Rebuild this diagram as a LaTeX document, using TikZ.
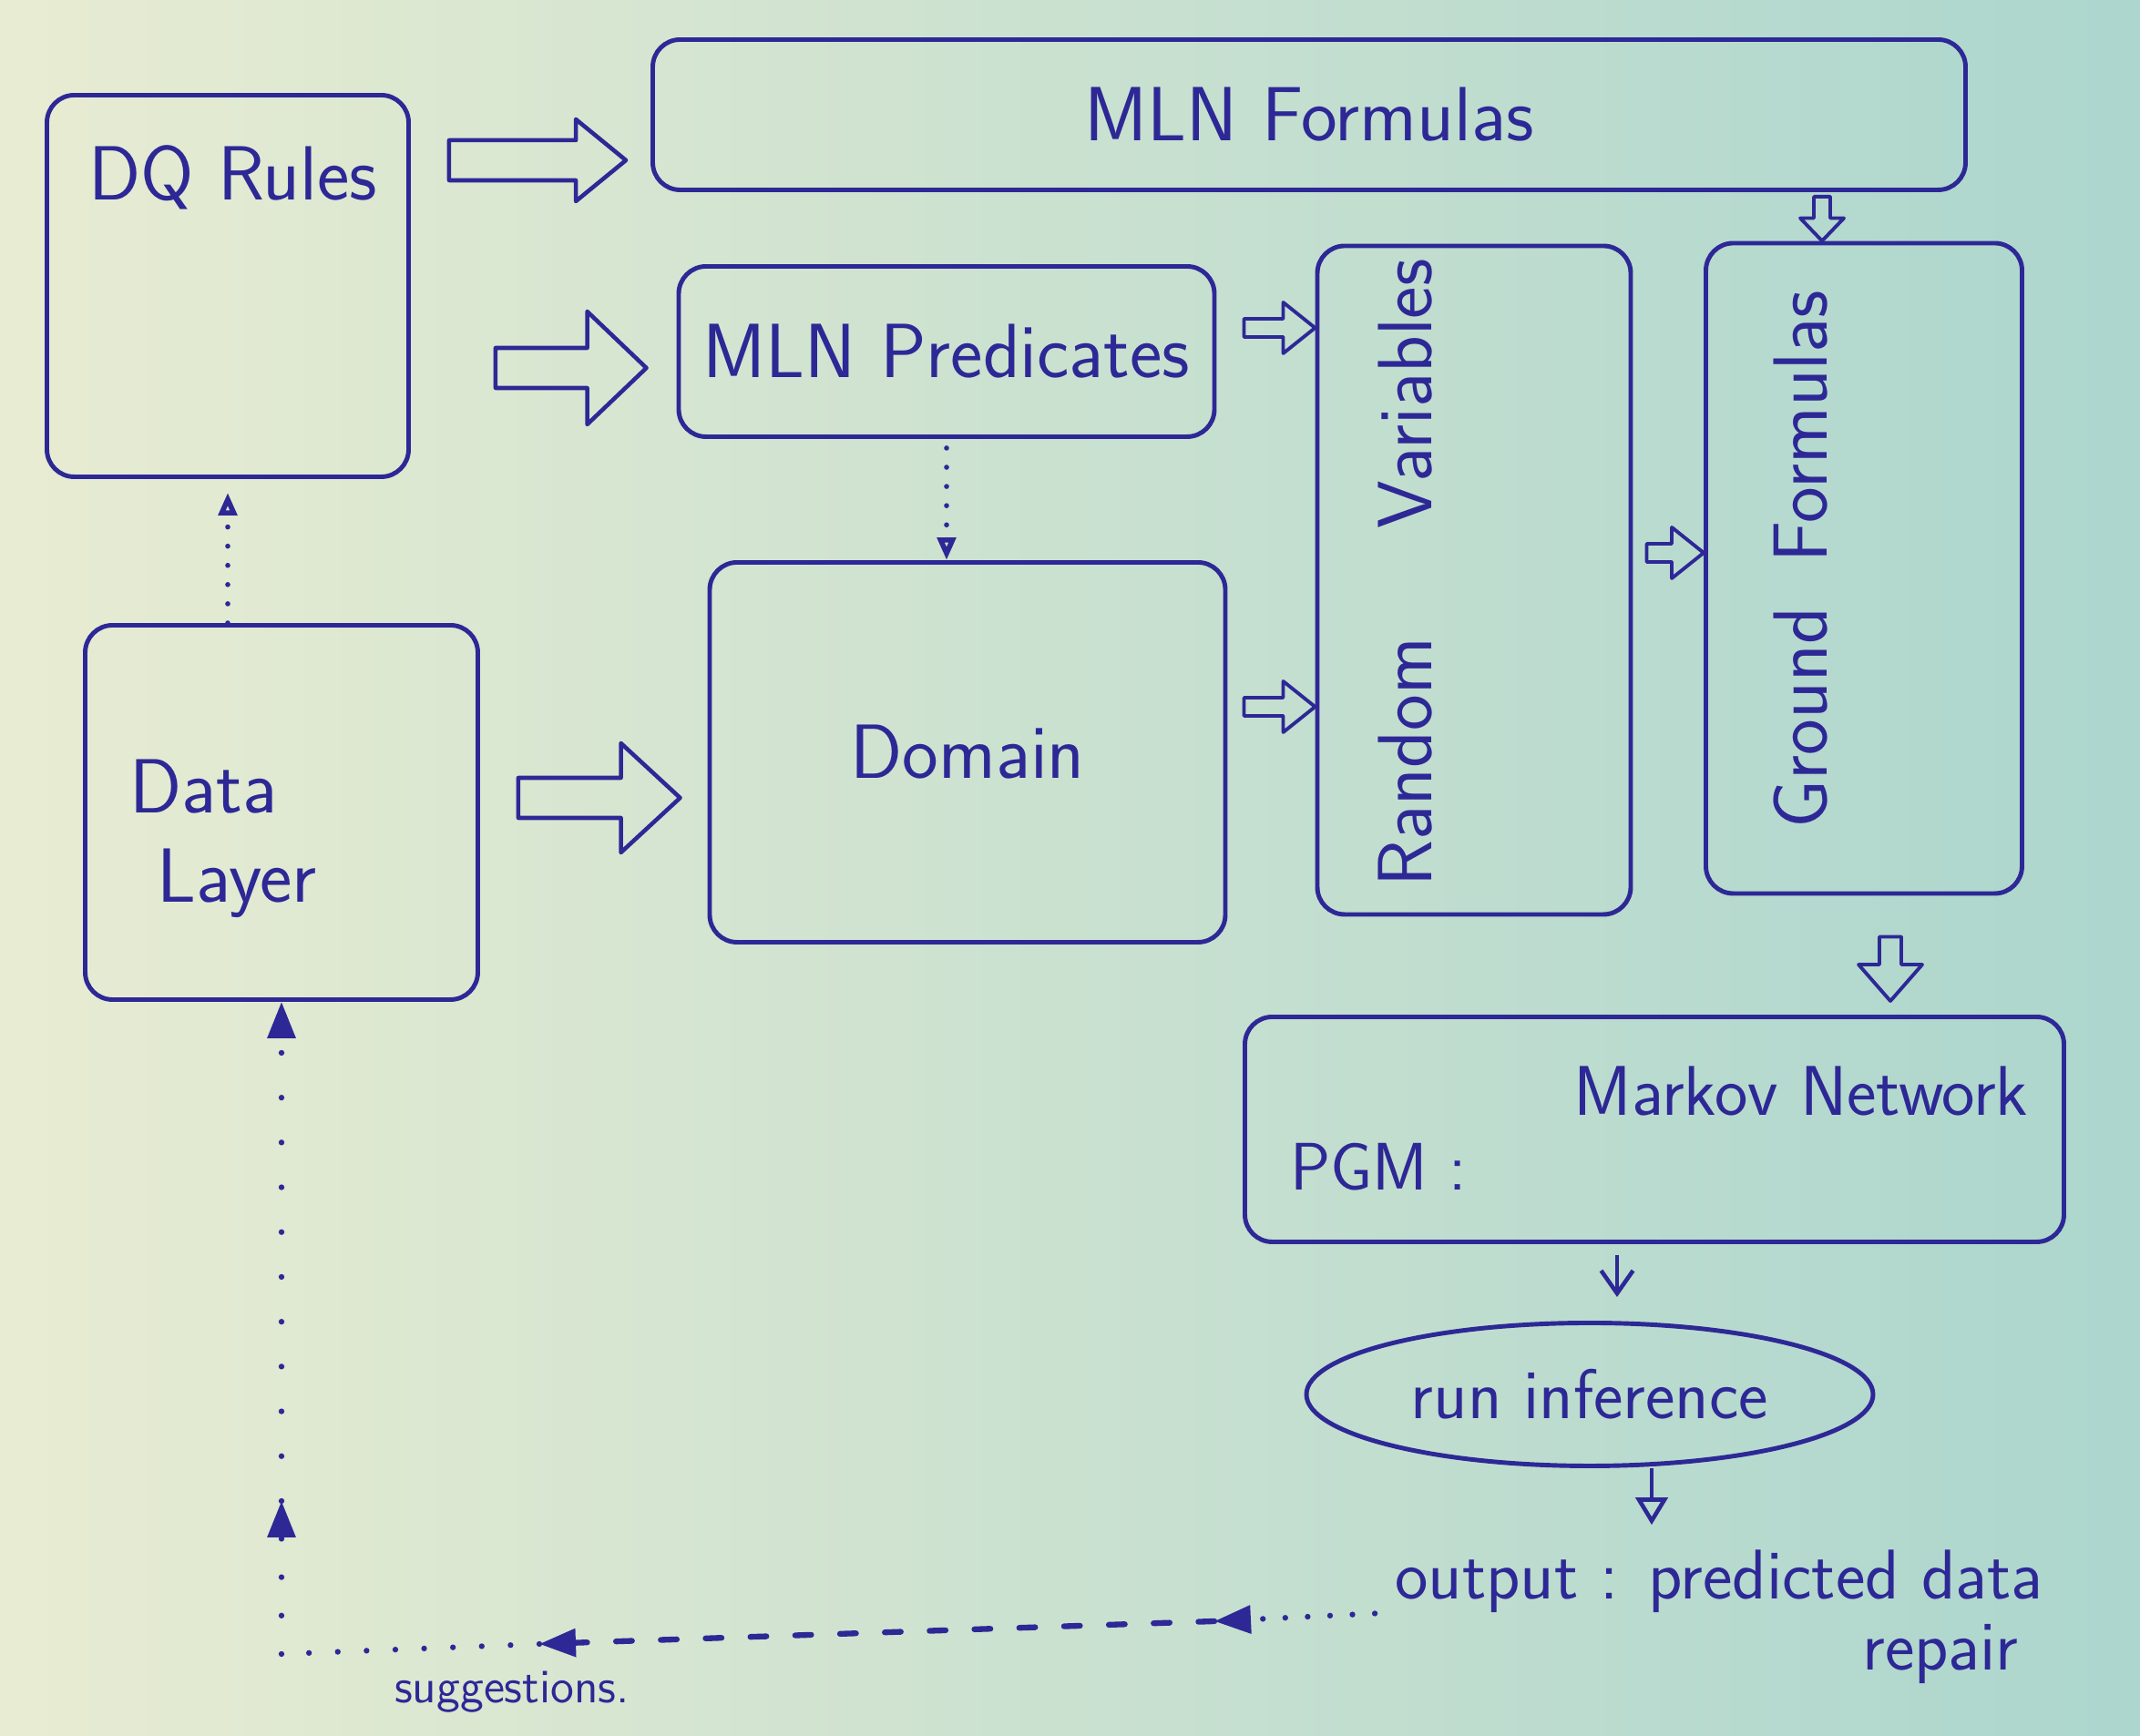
\documentclass[tikz,border=0pt]{standalone}
\usetikzlibrary{positioning,arrows.meta,shapes.geometric,calc}
\definecolor{ink}{RGB}{45,40,150}
\definecolor{paperl}{RGB}{232,236,210}
\definecolor{paperr}{RGB}{172,214,206}

\begin{document}
\begin{tikzpicture}[
    box/.style={draw=ink, line width=1.4pt, rounded corners=0.3cm},
    lbl/.style={text=ink, font=\sffamily\fontsize{24}{28}\selectfont},
    small lbl/.style={text=ink, font=\sffamily\fontsize{15}{18}\selectfont},
    hollow/.style={draw=ink, line width=1.3pt, line join=round},
    hollowright/.style n args={3}{to path={($(\tikztostart)+(0,#1)$) -- ($(\tikztotarget)+(-#3,#1)$)
        -- ($(\tikztotarget)+(-#3,#2)$) -- (\tikztotarget) -- ($(\tikztotarget)+(-#3,-#2)$)
        -- ($(\tikztotarget)+(-#3,-#1)$) -- ($(\tikztostart)+(0,-#1)$) -- cycle}},
    hollowdown/.style n args={3}{to path={($(\tikztostart)+(#1,0)$) -- ($(\tikztotarget)+(#1,#3)$)
        -- ($(\tikztotarget)+(#2,#3)$) -- (\tikztotarget) -- ($(\tikztotarget)+(-#2,#3)$)
        -- ($(\tikztotarget)+(-#1,#3)$) -- ($(\tikztostart)+(-#1,0)$) -- cycle}},
    dotarrow/.style={draw=ink, line width=1.6pt, line cap=round, dash pattern=on 0pt off 6pt, -{Triangle[open,length=2.5mm,width=2mm]}},
    fbarrow/.style={draw=ink, line width=1.8pt, line cap=round, -{Triangle[length=4mm,width=3mm]}}
]
    % Paper
    \shade[left color=paperl, right color=paperr] (0,0) rectangle (23.49,19.06);

    % Boxes
    \node[box, minimum width=3.97cm, minimum height=4.19cm] (dq) at (2.5,15.92) {};
    \node[lbl, anchor=west] (dqtext) at (0.85,17.11) {DQ Rules};
    \node[box, lbl, minimum width=14.41cm, minimum height=1.65cm] (fml) at (14.37,17.8) {MLN Formulas};
    \node[box, lbl, minimum width=5.88cm, minimum height=1.87cm] (pred) at (10.39,15.2) {MLN Predicates};
    \node[box, minimum width=3.44cm, minimum height=7.34cm] (rv) at (16.18,12.69) {};
    \node[lbl, rotate=90] (rvtext) at (15.43,12.77) {Random\hspace{1.2cm}Variables};
    \node[box, minimum width=3.47cm, minimum height=7.14cm] (gf) at (20.46,12.82) {};
    \node[lbl, rotate=90] (gftext) at (19.77,12.92) {Ground\hspace{0.5cm}Formulas};
    \node[box, lbl, minimum width=5.66cm, minimum height=4.17cm] (dom) at (10.62,10.8) {Domain};
    \node[box, minimum width=4.31cm, minimum height=4.11cm] (dl) at (3.09,10.14) {};
    \node[lbl, align=left] (dltext) at (2.45,9.85) {Data\\\hspace{0.3cm}Layer};
    \node[box, minimum width=8.99cm, minimum height=2.47cm] (pgm) at (18.16,6.66) {};
    \node[lbl, font=\sffamily\fontsize{21}{25}\selectfont] (pgmtext) at (15.13,6.25) {PGM :};
    \node[lbl, font=\sffamily\fontsize{22}{26}\selectfont] (mntext) at (19.77,7.08) {Markov Network};
    \node[ellipse, draw=ink, line width=1.4pt, lbl, font=\sffamily\fontsize{22}{26}\selectfont,
          minimum width=6.22cm, minimum height=1.57cm] (run) at (17.45,3.75) {run inference};
    \node[lbl, font=\sffamily\fontsize{22}{26}\selectfont] (out) at (18.87,1.7) {output : predicted data};
    \node[lbl, font=\sffamily\fontsize{22}{26}\selectfont] (rep) at (21.3,0.9) {repair};
    \node[small lbl] (sugg) at (5.62,0.48) {suggestions.};

    % Hollow arrows into the MLN
    \coordinate (a1s) at ([xshift=0.42cm,yshift=-0.5cm]dq.east |- fml.west);
    \coordinate (a1e) at ([xshift=-0.27cm,yshift=-0.5cm]fml.west);
    \coordinate (a2s) at ([xshift=0.93cm,yshift=-0.18cm]dq.east |- pred.west);
    \coordinate (a2e) at ([xshift=-0.33cm,yshift=-0.18cm]pred.west);
    \coordinate (a3s) at ([xshift=0.42cm,yshift=-0.5cm]dl.east |- dom.west);
    \coordinate (a3e) at ([xshift=-0.3cm,yshift=-0.5cm]dom.west);
    \draw[hollow, hollowright={0.22}{0.45}{0.55}] (a1s) to (a1e);
    \draw[hollow, hollowright={0.22}{0.62}{0.65}] (a2s) to (a2e);
    \draw[hollow, hollowright={0.22}{0.6}{0.65}] (a3s) to (a3e);

    % Grounding
    \coordinate (b1s) at ([xshift=0.3cm,yshift=0.26cm]pred.east);
    \coordinate (b1e) at ([yshift=0.26cm]pred.east -| rv.west);
    \coordinate (b2s) at ([xshift=0.18cm,yshift=0.5cm]dom.east);
    \coordinate (b2e) at ([yshift=0.5cm]dom.east -| rv.west);
    \coordinate (b3s) at ([xshift=0.15cm,yshift=0.3cm]rv.east);
    \coordinate (b3e) at ([yshift=0.3cm]rv.east -| gf.west);
    \foreach \s/\e in {b1s/b1e, b2s/b2e, b3s/b3e}
        \draw[hollow, line width=1.1pt, hollowright={0.1}{0.28}{0.35}] (\s) to (\e);
    \coordinate (b4s) at ([xshift=-0.46cm,yshift=-0.05cm]gf.north |- fml.south);
    \coordinate (b4e) at ([xshift=-0.46cm]gf.north);
    \coordinate (b5s) at ([xshift=0.29cm,yshift=-0.45cm]gf.south);
    \coordinate (b5e) at ([xshift=0.29cm,yshift=0.15cm]gf.south |- pgm.north);
    \draw[hollow, line width=1.1pt, hollowdown={0.09}{0.24}{0.25}] (b4s) to (b4e);
    \draw[hollow, line width=1.1pt, hollowdown={0.12}{0.35}{0.4}] (b5s) to (b5e);

    % Inference
    \draw[draw=ink, line width=1.3pt, -{Straight Barb[length=2.5mm,width=3.5mm]}, shorten <=0.12cm, shorten >=0.26cm]
        ([xshift=0.3cm]run.north |- pgm.south) -- ([xshift=0.3cm]run.north);
    \draw[draw=ink, line width=1.3pt, -{Triangle[open,length=3mm,width=3.5mm]}, shorten >=0.15cm]
        ([xshift=0.68cm]run.south) -- ([xshift=0.68cm]run.south |- out.north);

    % Dotted links
    \draw[dotarrow, shorten >=0.15cm] (dq.south |- dl.north) -- (dq.south);
    \draw[dotarrow, shorten <=0.1cm] (pred.south) -- (pred.south |- dom.north);

    % Suggestions back to the data layer
    \coordinate (fb1) at (13.33,1.26);
    \coordinate (fb2) at (5.92,1.01);
    \coordinate (fbc) at (3.09,0.9);
    \coordinate (fb3) at (3.09,2.58);
    \draw[fbarrow, dash pattern=on 0pt off 7pt, shorten <=0.1cm] ([yshift=-0.35cm]out.west) -- (fb1);
    \draw[fbarrow, dash pattern=on 5pt off 9pt] (fb1) -- (fb2);
    \draw[draw=ink, line width=1.8pt, line cap=round, dash pattern=on 0pt off 9pt] (fb2) -- (fbc);
    \draw[fbarrow, dash pattern=on 0pt off 12pt] (fbc) -- (fb3);
    \draw[fbarrow, dash pattern=on 0pt off 14pt] (fb3) -- (dl.south);
\end{tikzpicture}
\end{document}
